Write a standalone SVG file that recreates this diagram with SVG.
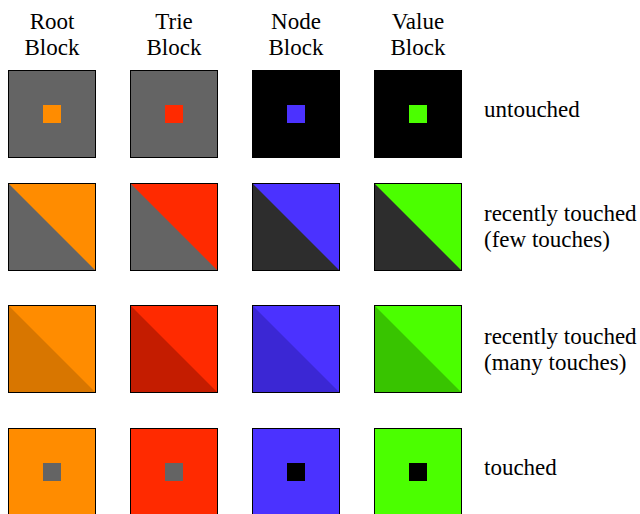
<svg xmlns="http://www.w3.org/2000/svg" width="640" height="514" viewBox="0 0 640 514">
<style>
text{font-family:'Liberation Serif','Times New Roman',serif;font-size:23px;fill:#000}
.h{text-anchor:middle}
.b{stroke:#000;stroke-width:1}
.g{fill:#646464}.k{fill:#000}.dk{fill:#2d2d2d}
.o{fill:#ff8c00}.r{fill:#ff2a00}.u{fill:#4b32ff}.n{fill:#4bff00}
.od{fill:#d87600}.rd{fill:#c41c00}.ud{fill:#3b27d4}.nd{fill:#38c400}
</style>
<rect width="640" height="514" fill="#fff"/>
<g id="headers">
<text class="h" x="52" y="29">Root</text><text class="h" x="52" y="55">Block</text>
<text class="h" x="174" y="29">Trie</text><text class="h" x="174" y="55">Block</text>
<text class="h" x="296" y="29">Node</text><text class="h" x="296" y="55">Block</text>
<text class="h" x="418" y="29">Value</text><text class="h" x="418" y="55">Block</text>
</g>
<g id="labels">
<text x="484" y="117">untouched</text>
<text x="484" y="221">recently touched</text><text x="484" y="247">(few touches)</text>
<text x="484" y="344">recently touched</text><text x="484" y="370">(many touches)</text>
<text x="484" y="475">touched</text>
</g>
<g id="row-untouched">
<g id="root-untouched"><rect class="g b" x="8.5" y="70.5" width="87" height="87"/><rect class="o" x="43" y="105" width="18" height="18"/></g>
<g id="trie-untouched"><rect class="g b" x="130.5" y="70.5" width="87" height="87"/><rect class="r" x="165" y="105" width="18" height="18"/></g>
<g id="node-untouched"><rect class="k b" x="252.5" y="70.5" width="87" height="87"/><rect class="u" x="287" y="105" width="18" height="18"/></g>
<g id="value-untouched"><rect class="k b" x="374.5" y="70.5" width="87" height="87"/><rect class="n" x="409" y="105" width="18" height="18"/></g>
</g>
<g id="row-few">
<g id="root-few"><rect class="o b" x="8.5" y="183.5" width="87" height="87"/><polygon class="g" points="9,184 95,270 9,270"/></g>
<g id="trie-few"><rect class="r b" x="130.5" y="183.5" width="87" height="87"/><polygon class="g" points="131,184 217,270 131,270"/></g>
<g id="node-few"><rect class="u b" x="252.5" y="183.5" width="87" height="87"/><polygon class="dk" points="253,184 339,270 253,270"/></g>
<g id="value-few"><rect class="n b" x="374.5" y="183.5" width="87" height="87"/><polygon class="dk" points="375,184 461,270 375,270"/></g>
</g>
<g id="row-many">
<g id="root-many"><rect class="o b" x="8.5" y="305.5" width="87" height="87"/><polygon class="od" points="9,306 95,392 9,392"/></g>
<g id="trie-many"><rect class="r b" x="130.5" y="305.5" width="87" height="87"/><polygon class="rd" points="131,306 217,392 131,392"/></g>
<g id="node-many"><rect class="u b" x="252.5" y="305.5" width="87" height="87"/><polygon class="ud" points="253,306 339,392 253,392"/></g>
<g id="value-many"><rect class="n b" x="374.5" y="305.5" width="87" height="87"/><polygon class="nd" points="375,306 461,392 375,392"/></g>
</g>
<g id="row-touched">
<g id="root-touched"><rect class="o b" x="8.5" y="428.5" width="87" height="87"/><rect class="g" x="43" y="463" width="18" height="18"/></g>
<g id="trie-touched"><rect class="r b" x="130.5" y="428.5" width="87" height="87"/><rect class="g" x="165" y="463" width="18" height="18"/></g>
<g id="node-touched"><rect class="u b" x="252.5" y="428.5" width="87" height="87"/><rect class="k" x="287" y="463" width="18" height="18"/></g>
<g id="value-touched"><rect class="n b" x="374.5" y="428.5" width="87" height="87"/><rect class="k" x="409" y="463" width="18" height="18"/></g>
</g>
<g id="connectors"/>
</svg>
